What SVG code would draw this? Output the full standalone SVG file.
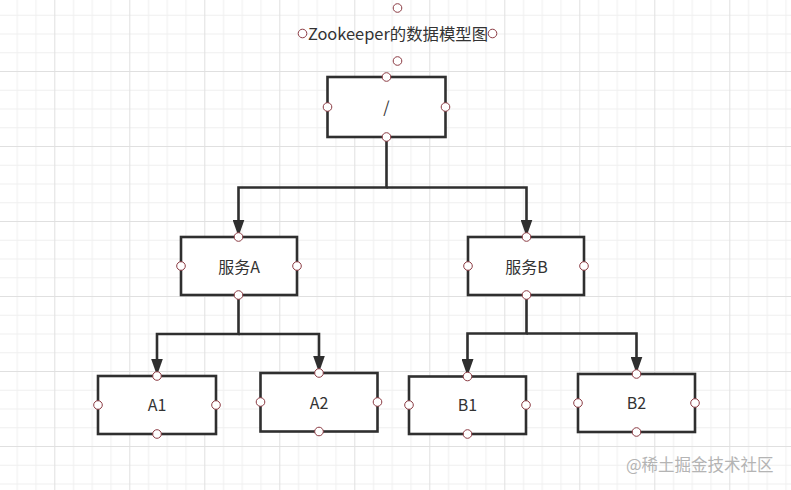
<svg xmlns="http://www.w3.org/2000/svg" width="791" height="490" viewBox="0 0 791 490">
  <style>
    .box { fill: #ffffff; stroke: #2f2f2f; stroke-width: 2.6; }
    .pt { fill: #ffffff; stroke: #8c3c44; stroke-width: 1; }
    .lbl { font-family: "Noto Sans CJK SC", "Liberation Sans", sans-serif; font-size: 16px; fill: #333333; text-anchor: middle; }
    .ttl { font-size: 16.4px; }
    .wire { fill: none; stroke: #2f2f2f; stroke-width: 2.6; stroke-linejoin: miter; }
    .wm { font-family: "Noto Sans CJK SC", "Liberation Sans", sans-serif; font-size: 16.5px; fill: #b4b4b4; }
  </style>
  <defs>
    <pattern id="grid" patternUnits="userSpaceOnUse" x="-20.7" y="-4" width="75" height="75">
      <rect x="0" y="0" width="75" height="75" fill="#ffffff"/>
      <rect x="18.75" y="0" width="1" height="75" fill="#f0f0f0"/>
      <rect x="37.5" y="0" width="1" height="75" fill="#f0f0f0"/>
      <rect x="56.25" y="0" width="1" height="75" fill="#f0f0f0"/>
      <rect x="0" y="18.75" width="75" height="1" fill="#f0f0f0"/>
      <rect x="0" y="37.5" width="75" height="1" fill="#f0f0f0"/>
      <rect x="0" y="56.25" width="75" height="1" fill="#f0f0f0"/>
      <rect x="0" y="0" width="1" height="75" fill="#e0e0e0"/>
      <rect x="0" y="0" width="75" height="1" fill="#e0e0e0"/>
    </pattern>
    <marker id="arrow" markerUnits="userSpaceOnUse" viewBox="0 0 17 12" refX="0.5" refY="6" markerWidth="17" markerHeight="12" orient="auto">
      <path d="M0,0 L17,6 L0,12 Z" fill="#2f2f2f"/>
    </marker>
  </defs>

  <rect x="0" y="0" width="791" height="490" fill="url(#grid)"/>

  <g id="title">
    <text class="lbl ttl" x="398" y="40">Zookeeper的数据模型图</text>
    <circle class="pt" cx="397.5" cy="8" r="4.3"/>
    <circle class="pt" cx="302.5" cy="33.5" r="4.3"/>
    <circle class="pt" cx="492.5" cy="33.5" r="4.3"/>
    <circle class="pt" cx="397.5" cy="61" r="4.3"/>
  </g>

  <g id="connectors">
    <path class="wire" d="M386.5,137 V187.5 H238.5 V220" marker-end="url(#arrow)"/>
    <path class="wire" d="M386.5,187.5 H526.5 V220" marker-end="url(#arrow)"/>
    <path class="wire" d="M238.5,295 V334 H157 V359" marker-end="url(#arrow)"/>
    <path class="wire" d="M238.5,334 H319 V356" marker-end="url(#arrow)"/>
    <path class="wire" d="M526.5,295 V333.5 H467.5 V359.5" marker-end="url(#arrow)"/>
    <path class="wire" d="M526.5,333.5 H636.5 V357" marker-end="url(#arrow)"/>
  </g>

  <g id="root">
    <rect class="box" x="327.5" y="77" width="118" height="60"/>
    <text class="lbl" x="386.5" y="113">/</text>
    <circle class="pt" cx="386.5" cy="77" r="4.3"/>
    <circle class="pt" cx="327.5" cy="107" r="4.3"/>
    <circle class="pt" cx="445.5" cy="107" r="4.3"/>
    <circle class="pt" cx="386.5" cy="137" r="4.3"/>
  </g>

  <g id="serviceA">
    <rect class="box" x="181" y="237" width="116" height="58"/>
    <text class="lbl" x="239" y="273">服务A</text>
    <circle class="pt" cx="238.5" cy="237" r="4.3"/>
    <circle class="pt" cx="181" cy="266" r="4.3"/>
    <circle class="pt" cx="297" cy="266" r="4.3"/>
    <circle class="pt" cx="238.5" cy="295" r="4.3"/>
  </g>

  <g id="serviceB">
    <rect class="box" x="468" y="237" width="116" height="58"/>
    <text class="lbl" x="526.5" y="273">服务B</text>
    <circle class="pt" cx="526.5" cy="237" r="4.3"/>
    <circle class="pt" cx="468" cy="266" r="4.3"/>
    <circle class="pt" cx="584" cy="266" r="4.3"/>
    <circle class="pt" cx="526.5" cy="295" r="4.3"/>
  </g>

  <g id="A1">
    <rect class="box" x="98" y="376" width="118" height="58"/>
    <text class="lbl" x="157" y="411">A1</text>
    <circle class="pt" cx="157" cy="376" r="4.3"/>
    <circle class="pt" cx="98" cy="405" r="4.3"/>
    <circle class="pt" cx="216" cy="405" r="4.3"/>
    <circle class="pt" cx="157" cy="434" r="4.3"/>
  </g>

  <g id="A2">
    <rect class="box" x="260.5" y="373" width="117" height="58.5"/>
    <text class="lbl" x="319" y="408.5">A2</text>
    <circle class="pt" cx="319" cy="373" r="4.3"/>
    <circle class="pt" cx="260.5" cy="402" r="4.3"/>
    <circle class="pt" cx="377.5" cy="402" r="4.3"/>
    <circle class="pt" cx="319" cy="431.5" r="4.3"/>
  </g>

  <g id="B1">
    <rect class="box" x="409" y="376.5" width="117" height="57.5"/>
    <text class="lbl" x="467.5" y="411">B1</text>
    <circle class="pt" cx="467.5" cy="376.5" r="4.3"/>
    <circle class="pt" cx="409" cy="405" r="4.3"/>
    <circle class="pt" cx="526" cy="405" r="4.3"/>
    <circle class="pt" cx="467.5" cy="434" r="4.3"/>
  </g>

  <g id="B2">
    <rect class="box" x="578" y="374" width="117" height="58"/>
    <text class="lbl" x="636.5" y="409">B2</text>
    <circle class="pt" cx="636.5" cy="374" r="4.3"/>
    <circle class="pt" cx="578" cy="403" r="4.3"/>
    <circle class="pt" cx="695" cy="403" r="4.3"/>
    <circle class="pt" cx="636.5" cy="432" r="4.3"/>
  </g>

  <text class="wm" x="626" y="471">@稀土掘金技术社区</text>
</svg>
